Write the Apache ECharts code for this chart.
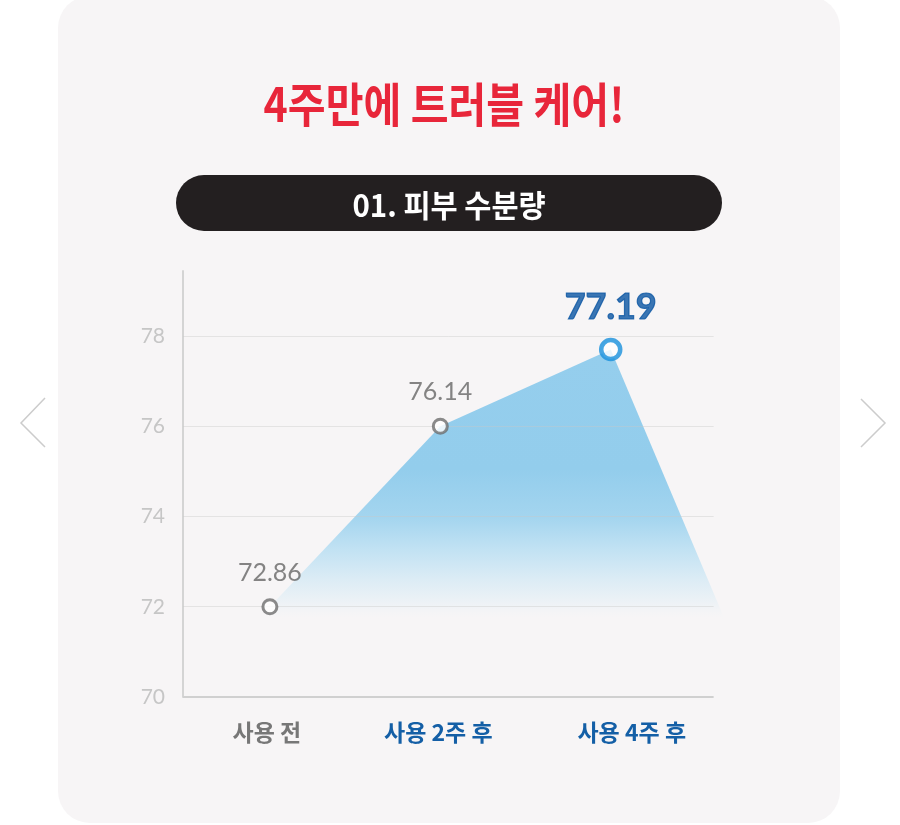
<!DOCTYPE html>
<html>
<head>
<meta charset="utf-8">
<script src="https://cdn.jsdelivr.net/npm/echarts@6/dist/echarts.min.js"></script>
<style>
  html, body { margin: 0; padding: 0; background: #ffffff; }
  #chart { width: 900px; height: 825px; }
</style>
</head>
<body>
<div id="chart"></div>
<script>
// ---- data ----
var titleText = '4주만에 트러블 케어!';
var subTitleText = '01. 피부 수분량';
var categories = ['사용 전', '사용 2주 후', '사용 4주 후'];
var pointX = [0, 1, 2];
var pointValues = [72.0, 76.0, 77.7];          // plotted heights as drawn
var labelTexts = ['72.86', '76.14', '77.19'];  // printed labels
var areaX = [0, 1, 2, 2.66];
var areaValues = [72.0, 76.0, 77.7, 71.8];
var yTicks = [70, 72, 74, 76, 78];
var gridValues = [72, 74, 76, 78];

// axis extents (data space)
var xMin = -0.51, xAxisEnd = 2.604, xMax = 2.70;

// ---- chart ----
var chart = echarts.init(document.getElementById('chart'), null, { renderer: 'canvas' });

var pointData = pointX.map(function (x, i) {
  var last = i === pointX.length - 1;
  return {
    value: [x, pointValues[i]],
    symbolSize: last ? 19 : 14,
    itemStyle: {
      color: '#ffffff',
      borderColor: last ? '#1890dc' : '#6e6e6e',
      borderWidth: last ? 4.5 : 3
    },
    label: {
      show: true,
      position: 'top',
      distance: last ? 12 : 13,
      formatter: labelTexts[i],
      fontFamily: 'Lato, "Noto Sans", sans-serif',
      fontSize: last ? 36 : 25,
      fontWeight: last ? 'bold' : 'normal',
      color: last ? '#0a55a2' : '#666666',
      textBorderColor: last ? '#0a55a2' : 'transparent',
      textBorderWidth: last ? 1.2 : 0
    }
  };
});

var areaData = areaX.map(function (x, i) { return [x, areaValues[i]]; });

var axisLines = [[{ coord: [xMin, 70], lineStyle: { color: '#d0d0d0', width: 2 } }, { coord: [xAxisEnd, 70] }]]
  .concat(gridValues.map(function (v) {
    return [{ coord: [xMin, v] }, { coord: [xAxisEnd, v] }];
  }));

var option = {
  backgroundColor: '#ffffff',
  animation: false,
  graphic: [
    { type: 'rect', z: -10, shape: { x: 58, y: -4, width: 782, height: 827, r: 32 },
      style: { fill: '#f7f5f6' } },
    { type: 'polyline', shape: { points: [[45, 398], [21, 423], [45, 447]] },
      style: { stroke: '#cccccc', lineWidth: 1.5, fill: null } },
    { type: 'polyline', shape: { points: [[861, 399], [885, 423], [861, 447]] },
      style: { stroke: '#cccccc', lineWidth: 1.5, fill: null } },
    { type: 'text', x: 444, y: 104, scaleX: 0.875,
      style: { text: titleText, fill: '#e8263a', textAlign: 'center', textVerticalAlign: 'middle',
        font: 'bold 47px "Noto Sans CJK KR", sans-serif' } },
    { type: 'rect', shape: { x: 176, y: 175, width: 546, height: 56, r: 28 },
      style: { fill: '#231f20' } },
    { type: 'text', x: 449, y: 205, scaleX: 0.95,
      style: { text: subTitleText, fill: '#ffffff', textAlign: 'center', textVerticalAlign: 'middle',
        font: 'bold 31px "Noto Sans CJK KR", sans-serif' } }
  ],
  grid: { left: 183, right: 170, top: 271, bottom: 128, containLabel: false },
  xAxis: {
    type: 'value',
    min: xMin,
    max: xMax,
    splitLine: { show: false },
    axisTick: { show: false },
    axisLine: { show: false },
    axisLabel: {
      customValues: pointX,
      margin: 24,
      formatter: function (v) {
        var i = Math.round(v);
        var key = i === 0 ? 'g' : (i === 1 ? 'b' : 'c');
        return '{' + key + '|' + categories[i] + '}';
      },
      rich: {
        g: { color: '#777777', fontSize: 23, fontWeight: 'bold', fontFamily: '"Noto Sans CJK KR", sans-serif', padding: [0, 6, 0, 0] },
        b: { color: '#145fa6', fontSize: 23, fontWeight: 'bold', fontFamily: '"Noto Sans CJK KR", sans-serif', padding: [0, 4, 0, 0] },
        c: { color: '#145fa6', fontSize: 23, fontWeight: 'bold', fontFamily: '"Noto Sans CJK KR", sans-serif', padding: [0, 0, 0, 42] }
      }
    }
  },
  yAxis: {
    type: 'value',
    min: 70,
    max: 79.44,
    interval: 2,
    splitLine: { show: false },
    axisTick: { show: false },
    axisLine: { show: true, onZero: false, lineStyle: { color: '#d4d4d4', width: 2 } },
    axisLabel: {
      customValues: yTicks,
      margin: 18,
      color: '#c6c6c6',
      fontSize: 21,
      fontFamily: 'Lato, "Noto Sans", sans-serif',
      formatter: function (v) { return yTicks.indexOf(v) >= 0 ? String(v) : ''; }
    }
  },
  series: [
    {
      type: 'line',
      data: areaData,
      symbol: 'none',
      clip: false,
      silent: true,
      z: 1,
      lineStyle: { width: 0, opacity: 0 },
      areaStyle: {
        opacity: 1,
        color: new echarts.graphic.LinearGradient(0, 351, 0, 620, [
          { offset: 0, color: 'rgba(149,206,237,1)' },
          { offset: 0.44, color: 'rgba(147,205,236,1)' },
          { offset: 0.62, color: 'rgba(164,213,239,1)' },
          { offset: 0.74, color: 'rgba(194,226,243,1)' },
          { offset: 0.85, color: 'rgba(220,236,245,1)' },
          { offset: 0.95, color: 'rgba(240,243,246,1)' },
          { offset: 1, color: 'rgba(247,245,246,0)' }
        ], true)
      },
      markLine: {
        silent: true,
        symbol: 'none',
        label: { show: false },
        lineStyle: { color: 'rgba(200,200,200,0.4)', type: 'solid', width: 1 },
        data: axisLines
      }
    },
    {
      type: 'scatter',
      data: pointData,
      z: 5,
      clip: false,
      silent: true
    }
  ]
};

chart.setOption(option);
</script>
</body>
</html>
